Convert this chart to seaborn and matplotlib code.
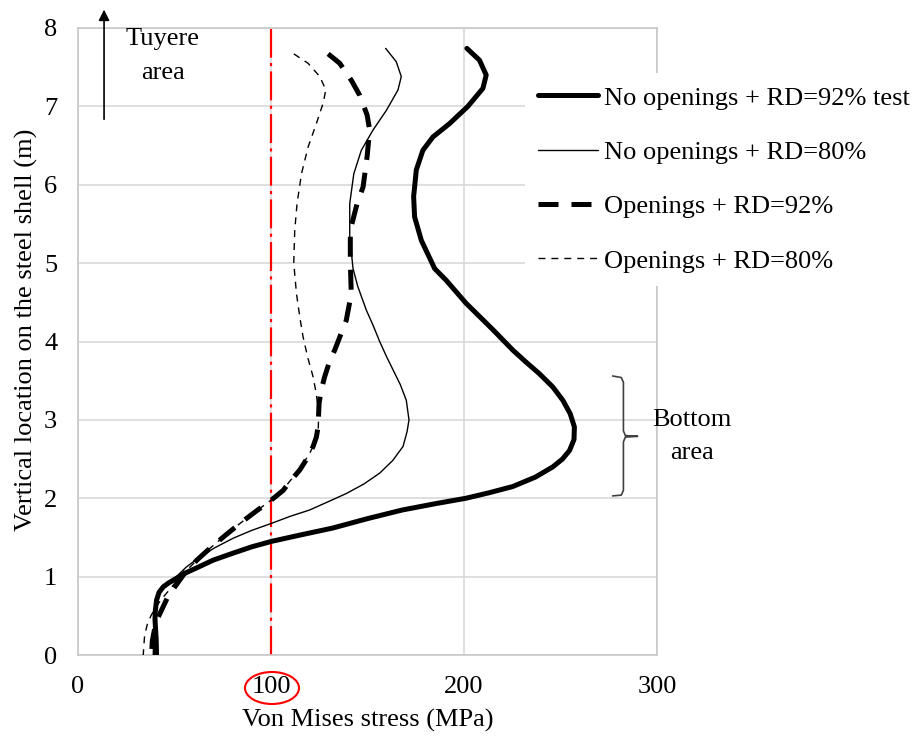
import numpy as np
import pandas as pd
import matplotlib
matplotlib.use("Agg")
import matplotlib.pyplot as plt
from matplotlib.patches import Ellipse
import seaborn as sns

# ---------------- data ----------------
# No openings + RD=92% test  (thick solid)
s1_height = [7.74, 7.59, 7.40, 7.23, 7.00, 6.78, 6.61, 6.44, 6.19, 5.85, 5.59, 5.29, 4.93,
             4.78, 4.49, 4.32, 4.15, 3.89, 3.74, 3.59, 3.42, 3.25, 3.08, 2.91, 2.75,
             2.61, 2.50, 2.40, 2.27, 2.15, 2.07, 2.00, 1.93, 1.85, 1.74, 1.62, 1.53,
             1.45, 1.38, 1.30, 1.21, 1.13, 1.05, 0.98, 0.92, 0.87, 0.80, 0.70, 0.55,
             0.45, 0.20, 0.00]
s1_stress = [201.5, 208, 211.5, 209.8, 202, 192.5, 183.9, 178.7, 175.3, 173.9, 174.4, 177.9, 184.8,
             190.8, 201, 208, 215, 225.3, 232, 239, 246, 251.2, 255, 257.2, 257,
             254.7, 251, 246, 237, 225.3, 213, 201, 185, 168, 150, 132, 115,
             100.3, 90, 80.4, 70, 63.1, 56, 51.1, 47, 44.2, 42, 40.7, 40,
             39.9, 40.5, 40.7]

# No openings + RD=80%  (thin solid)
s2_height = [7.74, 7.57, 7.38, 7.21, 6.95, 6.70, 6.44, 6.14, 5.76, 5.34, 4.93, 4.70, 4.40,
             4.20, 4.00, 3.80, 3.64, 3.45, 3.25, 3.00, 2.85, 2.66, 2.48, 2.32, 2.18,
             2.06, 1.96, 1.85, 1.77, 1.68, 1.59, 1.49, 1.37, 1.25, 1.12, 1.00, 0.90,
             0.79, 0.65, 0.49, 0.25, 0.00]
s2_stress = [159.4, 164.9, 167.5, 165.8, 159.8, 152.9, 146.8, 142.9, 140.8, 140.8, 142.5, 145, 149.4,
             153, 156.3, 160, 163.2, 167, 170.1, 171.5, 170.5, 168.4, 163, 156.3, 148,
             139, 130, 120, 110, 100.3, 90, 80.4, 71, 63, 56, 51, 46,
             42.4, 40.5, 39.9, 39.2, 39]

# Openings + RD=92%  (thick dashed)
s3_height = [7.67, 7.55, 7.33, 7.14, 6.89, 6.70, 6.36, 5.97, 5.76, 5.42, 5.00, 4.61, 4.27,
             4.08, 3.89, 3.72, 3.55, 3.38, 3.21, 2.91, 2.78, 2.66, 2.50, 2.36, 2.22,
             2.10, 1.98, 1.83, 1.68, 1.52, 1.36, 1.22, 1.08, 0.87, 0.74, 0.62, 0.48,
             0.36, 0.18, 0.00]
s3_stress = [129.6, 135.6, 141.7, 146, 149.8, 151.1, 149.8, 147.7, 144.6, 141.1, 141.1, 141.6, 139,
             136, 133, 130, 127.8, 126, 124.9, 124.4, 123.5, 121.8, 118.5, 114.9, 110,
             106.3, 100.3, 92, 84, 76, 68.3, 62, 56.3, 50.2, 46.5, 44.2, 41.5,
             39.9, 38.5, 38.1]

# Openings + RD=80%  (thin dashed)
s4_height = [7.67, 7.55, 7.38, 7.21, 7.04, 6.78, 6.48, 6.14, 5.76, 5.42, 5.00, 4.61, 4.30,
             4.06, 3.80, 3.55, 3.33, 3.13, 2.98, 2.83, 2.70, 2.57, 2.42, 2.27, 2.15,
             2.06, 1.98, 1.83, 1.68, 1.52, 1.36, 1.22, 1.08, 0.96, 0.85, 0.72, 0.60,
             0.50, 0.40, 0.25, 0.00]
s4_stress = [111.8, 119.2, 125.3, 128.4, 127, 123.5, 119.2, 115.8, 113.5, 112.3, 111.8, 113.2, 115,
             116.6, 119, 121.8, 123.5, 124.4, 124.6, 124.4, 122.5, 120, 116, 111.5, 107.5,
             104.6, 100.3, 92, 84, 76, 68.3, 62, 56.3, 51.5, 48, 43.5, 40,
             37.8, 36, 34.5, 33.8]

series_names = ["No openings + RD=92% test", "No openings + RD=80%",
                "Openings + RD=92%", "Openings + RD=80%"]
limit_stress = 100
x_ticks = [0, 100, 200, 300]
y_ticks = [0, 1, 2, 3, 4, 5, 6, 7, 8]

# ---------------- styling ----------------
sns.set_theme(style="white")
plt.rcParams["font.family"] = ["Liberation Serif", "DejaVu Serif"]
plt.rcParams["text.color"] = "black"
plt.rcParams["axes.labelcolor"] = "black"
plt.rcParams["xtick.color"] = "black"
plt.rcParams["ytick.color"] = "black"
FS = 19

fig = plt.figure(figsize=(9.15, 7.4), dpi=100)
ax = fig.add_axes([78 / 915, 1 - 655 / 740, (657 - 78) / 915, (655 - 28) / 740])

styles = [
    dict(lw=3.6, ls="-"),
    dict(lw=1.0, ls="-"),
    dict(lw=3.6, ls=(0, (4.0, 2.6))),
    dict(lw=1.0, ls=(0, (5.0, 4.3))),
]
data = [(s1_stress, s1_height), (s2_stress, s2_height),
        (s3_stress, s3_height), (s4_stress, s4_height)]

for (xs, ys), name, st in zip(data, series_names, styles):
    df = pd.DataFrame({"stress": xs, "height": ys})
    sns.lineplot(data=df, x="stress", y="height", sort=False, estimator=None,
                 color="black", linewidth=st["lw"], linestyle=st["ls"],
                 solid_joinstyle="round", dash_joinstyle="round",
                 label=name, ax=ax, zorder=3)

# red limit line
ax.axvline(limit_stress, color="#ff0000", lw=1.6,
           ls=(0, (13, 2.4, 1.4, 2.4)), zorder=2)

ax.set_xlim(0, 300)
ax.set_ylim(0, 8)
ax.set_xticks(x_ticks)
ax.set_yticks(y_ticks)
ax.grid(True, color="#d9d9d9", lw=1.2)
for side in ["left", "bottom", "top", "right"]:
    ax.spines[side].set_color("#c8c8c8")
    ax.spines[side].set_linewidth(1.2)
ax.tick_params(axis="both", length=0, pad=15, labelsize=FS, colors="black")
ax.set_xlabel("Von Mises stress (MPa)", fontsize=FS, labelpad=8)
ax.set_ylabel("Vertical location on the steel shell (m)", fontsize=FS, labelpad=4, y=0.518)

# legend
leg = ax.legend(loc="upper left", bbox_to_anchor=(525 / 915, 1 - 73 / 740),
                bbox_transform=fig.transFigure, fontsize=FS, frameon=True,
                handlelength=2.25, handletextpad=0.23, labelspacing=1.17,
                borderpad=0.5, borderaxespad=0)
leg.get_frame().set_facecolor("white")
leg.get_frame().set_edgecolor("none")
leg.get_frame().set_alpha(1)
for t in leg.get_texts():
    t.set_color("black")

# Tuyere arrow + text
ax.annotate("", xy=(13.5, 8.27), xytext=(13.5, 6.8),
            arrowprops=dict(arrowstyle="-|>", color="black", lw=1.2, mutation_scale=16),
            annotation_clip=False)
ax.text(44, 7.86, "Tuyere", ha="center", va="center", fontsize=FS, clip_on=False)
ax.text(44, 7.43, "area", ha="center", va="center", fontsize=FS, clip_on=False)

# bottom-area brace
bx = [277, 281.5, 282.6, 282.6, 283.6, 290, 283.6, 282.6, 282.6, 281.5, 277]
by = [3.56, 3.54, 3.48, 2.86, 2.80, 2.79, 2.78, 2.72, 2.10, 2.04, 2.03]
ax.plot(bx, by, color="#404040", lw=1.2, clip_on=False, zorder=4)
ax.text(318, 3.0, "Bottom", ha="center", va="center", fontsize=FS, clip_on=False)
ax.text(318, 2.58, "area", ha="center", va="center", fontsize=FS, clip_on=False)

# red ellipse around the 100 label
fig.patches.append(Ellipse((272 / 915, 1 - 688 / 740), 54 / 915, 32 / 740,
                           transform=fig.transFigure, fill=False,
                           edgecolor="#ff0000", lw=1.5))

fig.savefig("out.png", dpi=100)
